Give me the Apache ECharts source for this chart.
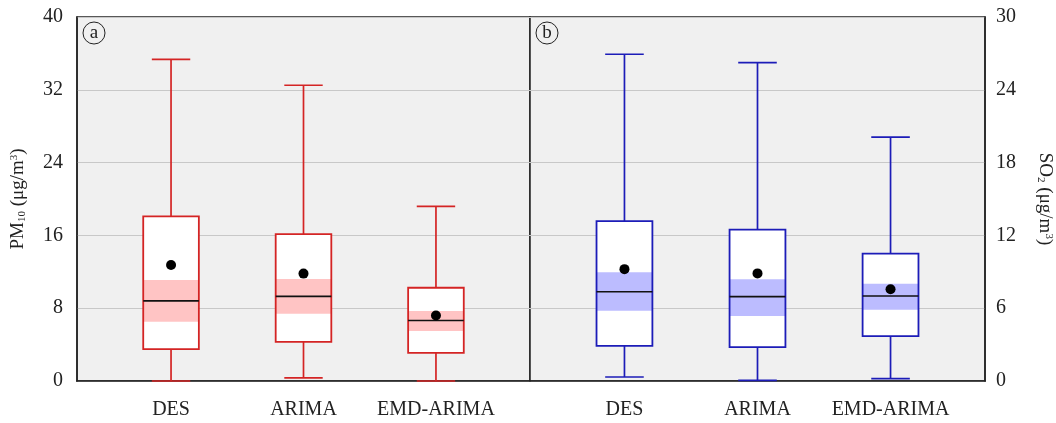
<!DOCTYPE html>
<html>
<head>
<meta charset="utf-8">
<script src="https://cdn.jsdelivr.net/npm/echarts@6/dist/echarts.min.js"></script>
<style>
  html, body { margin: 0; padding: 0; background: #fff; }
  #chart { width: 1056px; height: 423px; }
</style>
</head>
<body>
<div id="chart"></div>
<script>
// categories and tick labels
var models = ["DES", "ARIMA", "EMD-ARIMA"];
var pmTicks = [0, 8, 16, 24, 32, 40];
var so2Ticks = [0, 6, 12, 18, 24, 30];

// panel a: PM10 box stats
var pmMin = [0, 0.35, 0];
var pmQ1 = [3.5, 4.3, 3.1];
var pmMedian = [8.8, 9.3, 6.65];
var pmQ3 = [18.1, 16.15, 10.25];
var pmMax = [35.35, 32.5, 19.2];
var pmCiLow = [6.5, 7.4, 5.5];
var pmCiHigh = [11.1, 11.2, 7.7];
var pmMean = [12.75, 11.8, 7.2];

// panel b: SO2 box stats
var so2Min = [0.33, 0.05, 0.2];
var so2Q1 = [2.9, 2.8, 3.7];
var so2Median = [7.35, 6.95, 7.0];
var so2Q3 = [13.17, 12.47, 10.5];
var so2Max = [26.93, 26.24, 20.1];
var so2CiLow = [5.78, 5.35, 5.88];
var so2CiHigh = [8.97, 8.38, 8.02];
var so2Mean = [9.22, 8.87, 7.56];

var serif = '"Liberation Serif", "DejaVu Serif", serif';

// build rows for the custom series
function rows(mn, q1, md, q3, mx, lo, hi, mean) {
  return models.map(function (m, i) {
    return [i, mn[i], q1[i], md[i], q3[i], mx[i], lo[i], hi[i], mean[i]];
  });
}

// draws one box with shaded median band and mean dot
function boxRenderer(color, bandColor) {
  return function (params, api) {
    var i = api.value(0);
    var bw = api.size([0.42, 0])[0], cw = api.size([0.29, 0])[0];
    var pMin = api.coord([i, api.value(1)]);
    var pQ1 = api.coord([i, api.value(2)]);
    var pMd = api.coord([i, api.value(3)]);
    var pQ3 = api.coord([i, api.value(4)]);
    var pMax = api.coord([i, api.value(5)]);
    var pLo = api.coord([i, api.value(6)]);
    var pHi = api.coord([i, api.value(7)]);
    var pMean = api.coord([i, api.value(8)]);
    var cx = pMd[0];
    var line = { stroke: color, lineWidth: 1.7 };
    return {
      type: "group",
      children: [
        { type: "rect", shape: { x: cx - bw / 2, y: pQ3[1], width: bw, height: pQ1[1] - pQ3[1] },
          style: { fill: "#ffffff" } },
        { type: "rect", shape: { x: cx - bw / 2, y: pHi[1], width: bw, height: pLo[1] - pHi[1] },
          style: { fill: bandColor } },
        { type: "rect", shape: { x: cx - bw / 2, y: pQ3[1], width: bw, height: pQ1[1] - pQ3[1] },
          style: { fill: "none", stroke: color, lineWidth: 1.8 } },
        { type: "line", shape: { x1: cx, y1: pQ3[1], x2: cx, y2: pMax[1] }, style: line },
        { type: "line", shape: { x1: cx, y1: pQ1[1], x2: cx, y2: pMin[1] }, style: line },
        { type: "line", shape: { x1: cx - cw / 2, y1: pMax[1], x2: cx + cw / 2, y2: pMax[1] }, style: line },
        { type: "line", shape: { x1: cx - cw / 2, y1: pMin[1], x2: cx + cw / 2, y2: pMin[1] }, style: line },
        { type: "line", shape: { x1: cx - bw / 2, y1: pMd[1], x2: cx + bw / 2, y2: pMd[1] },
          style: { stroke: "#111", lineWidth: 1.6 } },
        { type: "circle", shape: { cx: cx, cy: pMean[1], r: 5 }, style: { fill: "#000" } }
      ]
    };
  };
}

var nameRich = {
  t: { fontFamily: serif, fontSize: 19, color: "#222" },
  s: { fontFamily: serif, fontSize: 11, color: "#222", padding: [8, 0, 0, 0] },
  p: { fontFamily: serif, fontSize: 11, color: "#222", padding: [0, 0, 8, 0] }
};

// x is a value axis so the boxes can sit inset from the panel edges
function xAxisFor(idx) {
  return {
    type: "value", gridIndex: idx, min: -0.71, max: 2.71,
    axisTick: { show: false },
    splitLine: { show: false },
    axisLine: { onZero: false, lineStyle: { color: "#222", width: 1.5 } },
    axisLabel: {
      customValues: [0, 1, 2],
      formatter: function (v) { return models[Math.round(v)]; },
      fontFamily: serif, fontSize: 20, color: "#222", margin: 19
    }
  };
}

function yAxisFor(idx, ticks, pos, name, rot, gap) {
  return {
    type: "value", gridIndex: idx, position: pos,
    min: ticks[0], max: ticks[ticks.length - 1], interval: ticks[1] - ticks[0],
    name: name, nameLocation: "middle", nameGap: gap, nameRotate: rot,
    nameTextStyle: { rich: nameRich },
    axisLine: { show: true, onZero: false, lineStyle: { color: "#222", width: 1.5 } },
    axisTick: { show: false },
    axisLabel: { fontFamily: serif, fontSize: 20, color: "#222", margin: pos === "left" ? 14 : 11 },
    splitLine: { lineStyle: { color: "#c8c8c8", width: 1.2 } }
  };
}

var option = {
  backgroundColor: "#fff",
  animation: false,
  grid: [
    { left: 77, top: 17, width: 453, height: 364, show: true,
      backgroundColor: "#f0f0f0", borderColor: "#222", borderWidth: 1.5 },
    { left: 530, top: 17, width: 455, height: 364, show: true,
      backgroundColor: "#f0f0f0", borderColor: "#222", borderWidth: 1.5 }
  ],
  xAxis: [xAxisFor(0), xAxisFor(1)],
  yAxis: [
    yAxisFor(0, pmTicks, "left", "{t|PM}{s|10}{t| (μg/m}{p|3}{t|)}", 90, 49),
    yAxisFor(1, so2Ticks, "right", "{t|SO}{s|2}{t| (μg/m}{p|3}{t|)}", -90, 50)
  ],
  graphic: [
    { type: "circle", shape: { cx: 94, cy: 33, r: 11 }, style: { fill: "none", stroke: "#222", lineWidth: 1 } },
    { type: "text", x: 94, y: 33, style: { text: "a", font: "19px " + serif, fill: "#222", align: "center", verticalAlign: "middle" } },
    { type: "circle", shape: { cx: 547, cy: 33, r: 11 }, style: { fill: "none", stroke: "#222", lineWidth: 1 } },
    { type: "text", x: 547, y: 33, style: { text: "b", font: "19px " + serif, fill: "#222", align: "center", verticalAlign: "middle" } }
  ],
  series: [
    { type: "custom", xAxisIndex: 0, yAxisIndex: 0, clip: false,
      renderItem: boxRenderer("#d42424", "#ffc4c4"),
      data: rows(pmMin, pmQ1, pmMedian, pmQ3, pmMax, pmCiLow, pmCiHigh, pmMean) },
    { type: "custom", xAxisIndex: 1, yAxisIndex: 1, clip: false,
      renderItem: boxRenderer("#1c1cb8", "#bcbcff"),
      data: rows(so2Min, so2Q1, so2Median, so2Q3, so2Max, so2CiLow, so2CiHigh, so2Mean) }
  ]
};

var myChart = echarts.init(document.getElementById("chart"));
option && myChart.setOption(option);
</script>
</body>
</html>
